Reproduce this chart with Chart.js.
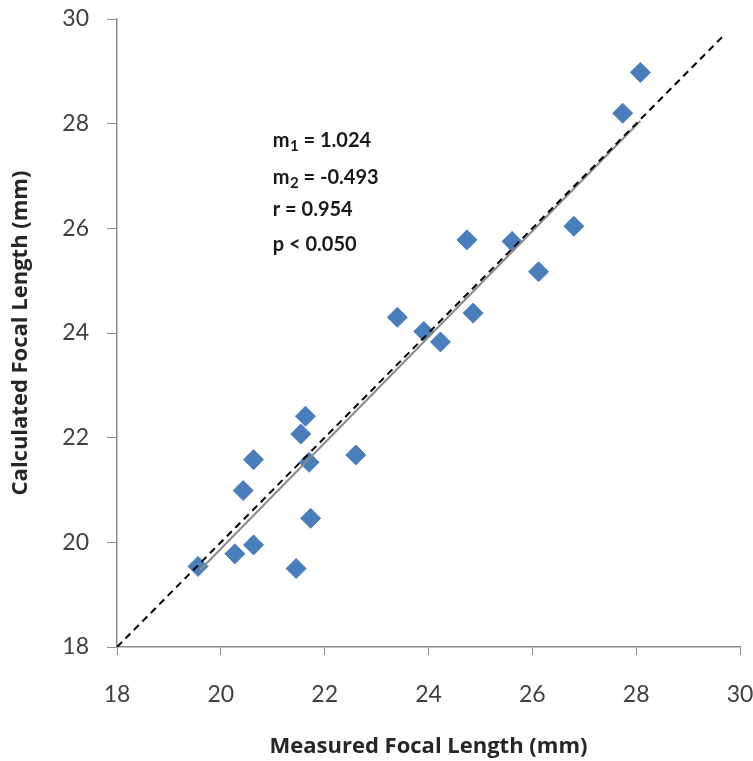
<!DOCTYPE html>
<html lang="en">
<head>
    <meta charset="UTF-8">
    <title>Calculated vs Measured Focal Length</title>
    <script src="https://cdn.jsdelivr.net/npm/chart.js"></script>
    <style>
        html, body { margin: 0; padding: 0; background: #fff; }
        #wrap { width: 753px; height: 761px; }
    </style>
</head>
<body>
    <div id="wrap"><canvas id="focalChart" width="753" height="761"></canvas></div>
    <script>
        // measured vs calculated focal length (mm)
        const measured = [19.56, 20.27, 20.63, 20.43, 20.63, 21.45, 21.73, 21.70, 21.54, 21.63, 22.60,
                          23.40, 23.91, 24.23, 24.74, 24.86, 25.61, 26.12, 26.80, 27.74, 28.08];
        const calculated = [19.54, 19.78, 19.95, 20.99, 21.58, 19.50, 20.46, 21.53, 22.07, 22.41, 21.67,
                            24.30, 24.03, 23.83, 25.78, 24.38, 25.75, 25.17, 26.04, 28.20, 28.98];

        // regression line ends and identity (y = x) line
        const fitX = [19.6, 28.08];
        const fitY = [19.47, 28.05];
        const identityX = [18, 29.72];
        const identityY = [18, 29.72];

        const tickValues = [18, 20, 22, 24, 26, 28, 30];

        // statistics text block
        const statNames = ['m', 'm', 'r', 'p'];
        const statSubs = ['1', '2', '', ''];
        const statRest = [' = 1.024', ' = -0.493', ' = 0.954', ' < 0.050'];
        const statX = 21.0;
        const statY = [27.55, 26.84, 26.235, 25.56];

        const toPoints = (xs, ys) => xs.map((x, i) => ({ x: x, y: ys[i] }));

        const FONT = 'Lato, "Open Sans", sans-serif';
        const TITLE_FONT = '"Open Sans", Lato, sans-serif';

        const statsPlugin = {
            id: 'statsText',
            afterDatasetsDraw(chart) {
                const ctx = chart.ctx;
                const xs = chart.scales.x, ys = chart.scales.y;
                ctx.save();
                ctx.fillStyle = '#1a1a1a';
                ctx.textBaseline = 'alphabetic';
                ctx.textAlign = 'left';
                statNames.forEach((name, i) => {
                    let px = xs.getPixelForValue(statX);
                    const py = ys.getPixelForValue(statY[i]);
                    ctx.font = 'bold 20px ' + FONT;
                    ctx.fillText(name, px, py);
                    px += ctx.measureText(name).width;
                    if (statSubs[i]) {
                        ctx.font = 'bold 15px ' + FONT;
                        ctx.fillText(statSubs[i], px + 0.5, py + 4);
                        px += ctx.measureText(statSubs[i]).width + 0.5;
                        ctx.font = 'bold 20px ' + FONT;
                    }
                    ctx.fillText(statRest[i], px, py);
                });
                ctx.restore();
            }
        };

        const ctx = document.getElementById('focalChart').getContext('2d');
        new Chart(ctx, {
            type: 'scatter',
            data: {
                datasets: [
                    {
                        label: 'y = x',
                        data: toPoints(identityX, identityY),
                        showLine: true,
                        borderColor: '#000',
                        borderWidth: 2,
                        borderDash: [7, 5],
                        pointRadius: 0,
                        order: 0
                    },
                    {
                        label: 'fit',
                        data: toPoints(fitX, fitY),
                        showLine: true,
                        borderColor: '#8a8a8a',
                        borderWidth: 2,
                        pointRadius: 0,
                        order: 1
                    },
                    {
                        label: 'data',
                        data: toPoints(measured, calculated),
                        pointStyle: 'rectRot',
                        pointRadius: 10,
                        backgroundColor: '#4a7ebb',
                        borderColor: '#4a7ebb',
                        borderWidth: 1,
                        order: 2
                    }
                ]
            },
            options: {
                responsive: false,
                animation: false,
                layout: { padding: { left: 0, top: 19, right: 13, bottom: 0 } },
                plugins: {
                    legend: { display: false },
                    tooltip: { enabled: false }
                },
                scales: {
                    x: {
                        type: 'linear',
                        min: 18,
                        max: 30,
                        afterBuildTicks: s => { s.ticks = tickValues.map(v => ({ value: v })); },
                        afterFit: s => {
                            s.height = 114;
                            s.paddingLeft = 0;
                            s.paddingRight = 0;
                        },
                        grid: { drawOnChartArea: false, tickLength: 8, color: '#8c8c8c' },
                        border: { color: '#8c8c8c', width: 1.5 },
                        ticks: { color: '#404040', font: { family: FONT, size: 23 }, padding: 26 },
                        title: {
                            display: true,
                            text: 'Measured Focal Length (mm)',
                            color: '#262626',
                            font: { family: TITLE_FONT, size: 22, weight: 'bold' },
                            padding: { top: 0, bottom: 1 }
                        }
                    },
                    y: {
                        type: 'linear',
                        min: 18,
                        max: 30,
                        afterBuildTicks: s => { s.ticks = tickValues.map(v => ({ value: v })); },
                        afterFit: s => {
                            s.width = 117;
                            s.paddingTop = 0;
                            s.paddingBottom = 0;
                        },
                        grid: { drawOnChartArea: false, tickLength: 10, color: '#8c8c8c' },
                        border: { color: '#8c8c8c', width: 1.5 },
                        ticks: { color: '#404040', font: { family: FONT, size: 23 }, padding: 18 },
                        title: {
                            display: true,
                            text: 'Calculated Focal Length (mm)',
                            color: '#262626',
                            font: { family: TITLE_FONT, size: 22, weight: 'bold' },
                            padding: { top: 8, bottom: 0 }
                        }
                    }
                }
            },
            plugins: [statsPlugin]
        });
    </script>
</body>
</html>
